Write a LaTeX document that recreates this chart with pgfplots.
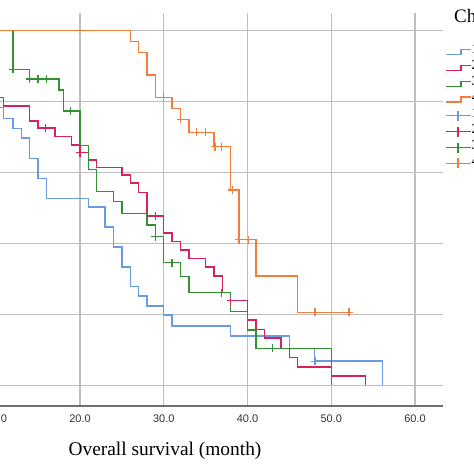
\documentclass[border=0pt]{standalone}
\usepackage{fontspec}
\setmainfont{Liberation Serif}
\newfontfamily\arialfont{Liberation Sans}
\usepackage{pgfplots}
\pgfplotsset{compat=1.18}
\definecolor{kmblue}{RGB}{105,155,225}
\definecolor{kmred}{RGB}{215,35,90}
\definecolor{kmgreen}{RGB}{50,145,50}
\definecolor{kmorange}{RGB}{240,125,60}
\definecolor{gridgray}{RGB}{190,190,190}
\definecolor{axisgray}{RGB}{110,110,110}
\pgfplotsset{
  stepleg/.style={legend image code/.code={\draw[##1] (0pt,-2.5pt) -- (15pt,-2.5pt) -- (15pt,2.5pt) -- (25pt,2.5pt);}},
  censleg/.style={legend image code/.code={\draw[##1] (0pt,0pt) -- (25pt,0pt); \draw[##1] (12pt,-5pt) -- (12pt,5pt);}},
}
\begin{document}
\begin{tikzpicture}
\useasboundingbox (3.75pt,-68pt) rectangle (477.75pt,406pt);
\begin{axis}[
  at={(0pt,0pt)}, anchor=south west,
  scale only axis, width=446.75pt, height=393pt,
  xmin=10, xmax=63.34, ymin=-0.0584, ymax=1.05,
  axis x line*=bottom, axis y line*=left,
  x axis line style={color=axisgray, line width=1.5pt},
  y axis line style={draw=none},
  xtick={10,20,...,60}, ytick={0,0.2,0.4,0.6,0.8,1.0},
  yticklabels={},
  grid=major, major grid style={color=gridgray, line width=1.3pt},
  major tick length=0pt,
  /pgf/number format/assume math mode=true,
  xticklabel={\pgfmathprintnumber[fixed,fixed zerofill,precision=1]{\tick}},
  xticklabel style={font=\arialfont\fontsize{11}{11}\selectfont, anchor=base, yshift=-16.5pt, text=black!80},
  xlabel={Overall survival (month)},
  xlabel style={font=\fontsize{19.4}{20}\selectfont, at={(axis description cs:0.3777,-0.1272)}, anchor=base},
  clip mode=individual,
  legend style={at={(axis description cs:1.0045,0.922)}, anchor=north west, draw=none, fill=none,
    inner sep=0pt, row sep=0pt, font=\fontsize{14}{14}\selectfont,
    nodes={inner sep=0pt, text height=10pt, text depth=5.95pt},
    /tikz/every even column/.append style={column sep=3pt}},
  legend cell align=left,
]
% Kaplan-Meier step curves
\addplot[const plot, kmblue, line width=1.4pt, forget plot] coordinates {
 (10,0.784) (10.85,0.753) (12,0.725) (13,0.697) (14,0.640) (15,0.584) (16,0.527)
 (21,0.503) (23,0.446) (24,0.390) (25,0.334) (26,0.278) (27,0.252) (28,0.224)
 (30,0.198) (31,0.167) (38,0.139) (45,0.104) (48,0.068) (56.1,0) };
\addplot[const plot, kmred, line width=1.4pt, forget plot] coordinates {
 (10,0.811) (10.85,0.788) (14,0.745) (15,0.726) (17,0.701) (19,0.678) (20,0.656)
 (21,0.635) (22,0.615) (25,0.593) (26,0.570) (27,0.543) (28,0.477) (30,0.430)
 (31,0.405) (32,0.382) (33,0.358) (35,0.334) (36,0.308) (37,0.261) (38,0.239)
 (40,0.184) (41,0.158) (42,0.133) (44,0.104) (45,0.079) (46,0.052) (50,0.026) (54.1,0) };
\addplot[const plot, kmgreen, line width=1.4pt, forget plot] coordinates {
 (10,1.0) (12,0.891) (14,0.864) (17.5,0.833) (18,0.774) (20,0.677) (21,0.609)
 (22,0.546) (24,0.518) (25,0.485) (28,0.452) (29,0.419) (30,0.346) (32,0.306)
 (33,0.261) (38,0.208) (40,0.156) (41,0.104) (50,0) };
\addplot[const plot, kmorange, line width=1.4pt, forget plot] coordinates {
 (10,1.0) (26,0.969) (27,0.938) (28,0.875) (29,0.812) (31,0.781) (32,0.750)
 (33,0.713) (36,0.673) (38,0.551) (39,0.411) (41,0.308) (46,0.206) (52.4,0.206) };
% censored observations
\addplot[only marks, mark=+, mark size=4pt, kmblue, line width=1.3pt, forget plot] coordinates {
 (48.05,0.068) };
\addplot[only marks, mark=+, mark size=4pt, kmred, line width=1.3pt, forget plot] coordinates {
 (15.9,0.726) (20,0.656) (29,0.477) (38,0.239) };
\addplot[only marks, mark=+, mark size=4pt, kmgreen, line width=1.3pt, forget plot] coordinates {
 (12,0.891) (14,0.864) (15,0.864) (16,0.864) (18.9,0.774) (29,0.419) (31,0.346)
 (36.9,0.261) (43,0.104) };
\addplot[only marks, mark=+, mark size=4pt, kmorange, line width=1.3pt, forget plot] coordinates {
 (30,0.812) (32,0.750) (33.9,0.713) (35,0.713) (36.1,0.673) (36.9,0.673)
 (38.2,0.551) (39,0.411) (40.1,0.411) (48.05,0.206) (52.1,0.206) };
% legend
\addlegendimage{stepleg, kmblue, line width=1.4pt}
\addlegendentry{1}
\addlegendimage{stepleg, kmred, line width=1.4pt}
\addlegendentry{2}
\addlegendimage{stepleg, kmgreen, line width=1.4pt}
\addlegendentry{3}
\addlegendimage{stepleg, kmorange, line width=1.4pt}
\addlegendentry{4}
\addlegendimage{censleg, kmblue, line width=1.4pt}
\addlegendentry{1-censored}
\addlegendimage{censleg, kmred, line width=1.4pt}
\addlegendentry{2-censored}
\addlegendimage{censleg, kmgreen, line width=1.4pt}
\addlegendentry{3-censored}
\addlegendimage{censleg, kmorange, line width=1.4pt}
\addlegendentry{4-censored}
\node[anchor=base west, inner sep=0pt, font=\fontsize{19}{19}\selectfont] at (axis description cs:1.0246,0.9746) {Chemotherapy cycles};
\end{axis}
\end{tikzpicture}
\end{document}
